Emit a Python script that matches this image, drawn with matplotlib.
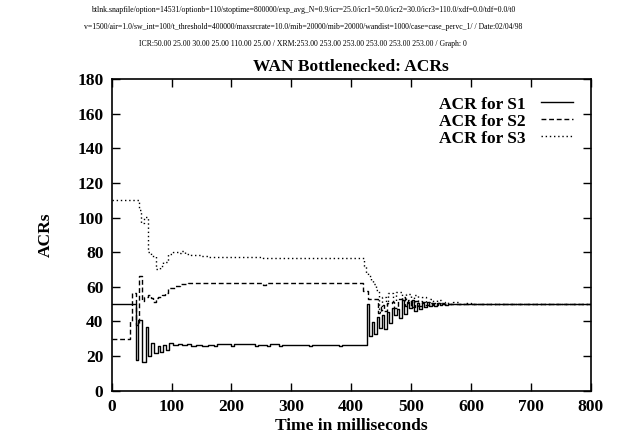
import matplotlib
matplotlib.use("Agg")
import matplotlib.pyplot as plt

# ---- data ----
t1 = [0, 40, 44.5, 50, 56.8, 61, 65.6, 71, 76.8, 80.6, 86, 90, 95.7, 103, 110, 118,
      125, 132, 140, 150, 160, 170, 175, 200, 205, 240, 245, 260, 265, 280, 285,
      330, 335, 380, 385, 426, 430, 434.2, 438, 442.5, 447, 450.9, 454.8, 459.2,
      463.6, 467.6, 471.5, 476, 480.3, 484.3, 488.1, 492.7, 497, 501, 504.8, 509.4,
      513.2, 517.7, 521.5, 526, 530, 535, 539, 543, 548, 552, 556, 561, 566, 800]
v1 = [50, 17.7, 40.8, 16.8, 36.6, 20, 27.7, 22, 25.8, 22.5, 26.4, 23.5, 27.7, 26.4,
      27, 26.2, 26.8, 26, 26.6, 26, 26.5, 26, 26.8, 26, 26.7, 26, 26.6, 26, 26.7, 26,
      26.6, 26, 26.6, 26, 26.5, 50, 31.8, 39.8, 33, 42.7, 36, 44, 35.5, 45.4, 39,
      48, 43.5, 47, 42, 52.5, 44.5, 51.5, 47.7, 52.5, 46, 50.5, 47, 50.5, 48.5, 51,
      48.8, 50.8, 49.2, 50.6, 49.5, 50.3, 49.7, 50.2, 50, 50]

t2 = [0, 30.6, 34.5, 40.6, 45.6, 50, 54.5, 61, 65.6, 69.5, 73.5, 77.8, 83.5, 89,
      94.6, 105.7, 114, 128, 253, 258, 420, 428.6, 445, 450, 455, 460, 467.6, 472,
      478, 484, 490, 495, 500, 506, 512, 518, 524, 530, 537, 545, 555, 565, 575,
      590, 600, 800]
v2 = [30, 40, 56.6, 38, 66.2, 52, 54.3, 55.3, 53.3, 51.4, 53.3, 54, 55.3, 56.2,
      59.1, 60.5, 61.4, 62, 61.2, 62, 57.5, 52.8, 44.7, 49.5, 46, 50.5, 51.4, 48,
      53, 54, 49, 52.5, 48.5, 51.8, 49, 51.2, 49.5, 50.8, 49.6, 50.5, 49.8, 50.3,
      49.9, 50.1, 50, 50]

t3 = [0, 45, 49.5, 54, 60.6, 65, 74.5, 80, 85.7, 94, 102, 110.7, 116, 122, 133,
      149.6, 160.8, 253, 421, 425, 428.6, 433, 437, 442, 447, 451, 458, 462, 470,
      475, 485, 492, 500, 505, 512, 518, 525, 531, 537, 543, 550, 556, 562, 570,
      580, 590, 600, 610, 620, 800]
v3 = [110, 104.3, 96.7, 100.1, 80.3, 77.8, 70.1, 72, 74.5, 79, 80.3, 79.7, 80.8,
      79, 78.4, 77.8, 77.4, 76.8, 72, 68, 66, 64, 61.5, 58, 45.6, 54.3, 50, 56.2,
      52, 57.2, 53, 56, 51.5, 55, 52, 54, 51, 53, 50.5, 52.3, 50.8, 51.5, 50.3, 51,
      50.2, 50.6, 50, 50.3, 50, 50]

labels = ["ACR for S1", "ACR for S2", "ACR for S3"]
xticks = [0, 100, 200, 300, 400, 500, 600, 700, 800]
yticks = [0, 20, 40, 60, 80, 100, 120, 140, 160, 180]

header = [
    "btlnk.snapfile/option=14531/optionb=110/stoptime=800000/exp_avg_N=0.9/icr=25.0/icr1=50.0/icr2=30.0/icr3=110.0/xdf=0.0/tdf=0.0/t0",
    "v=1500/air=1.0/sw_int=100/t_threshold=400000/maxsrcrate=10.0/mib=20000/mib=20000/wandist=1000/case=case_pervc_1/ / Date:02/04/98",
    "ICR:50.00 25.00 30.00 25.00 110.00 25.00 / XRM:253.00 253.00 253.00 253.00 253.00 253.00 / Graph: 0",
]
title = "WAN Bottlenecked: ACRs"
xlabel = "Time in milliseconds"
ylabel = "ACRs"

# ---- plot ----
plt.rcParams['font.family'] = ['Liberation Serif', 'DejaVu Serif']
fig = plt.figure(figsize=(6.19, 4.43), dpi=100)
ax = fig.add_axes([0.1805, 0.118, 0.7738, 0.7037])

ax.plot(t1, v1, drawstyle='steps-post', color='black', lw=1.0, label=labels[0])
ax.plot(t2, v2, drawstyle='steps-post', color='black', lw=1.0,
        linestyle=(0, (3.5, 2)), label=labels[1])
ax.plot(t3, v3, drawstyle='steps-post', color='black', lw=1.0,
        linestyle=(0, (1, 2)), label=labels[2])

ax.set_xlim(0, 800)
ax.set_ylim(0, 180)
ax.set_xticks(xticks)
ax.set_yticks(yticks)
ax.tick_params(direction='in', length=6, width=1, top=True, right=True,
               labelsize=12.5, pad=6)
for lab in ax.get_xticklabels() + ax.get_yticklabels():
    lab.set_fontweight('bold')
for sp in ax.spines.values():
    sp.set_linewidth(1.2)

ax.set_xlabel(xlabel, fontsize=12.5, fontweight='bold', labelpad=2)
ax.set_ylabel(ylabel, fontsize=12.5, fontweight='bold', labelpad=17)
ax.set_title(title, fontsize=12.5, fontweight='bold', pad=6)

leg = ax.legend(loc='upper right', frameon=False, markerfirst=False,
                prop={'weight': 'bold', 'size': 12.5}, handlelength=1.85,
                handletextpad=0.9, labelspacing=0.05, borderaxespad=0.6)

for i, line in enumerate(header):
    fig.text(0.49, 0.977 - i * 0.038, line, ha='center', va='center', fontsize=5.6)

fig.savefig("out.png", dpi=100)
